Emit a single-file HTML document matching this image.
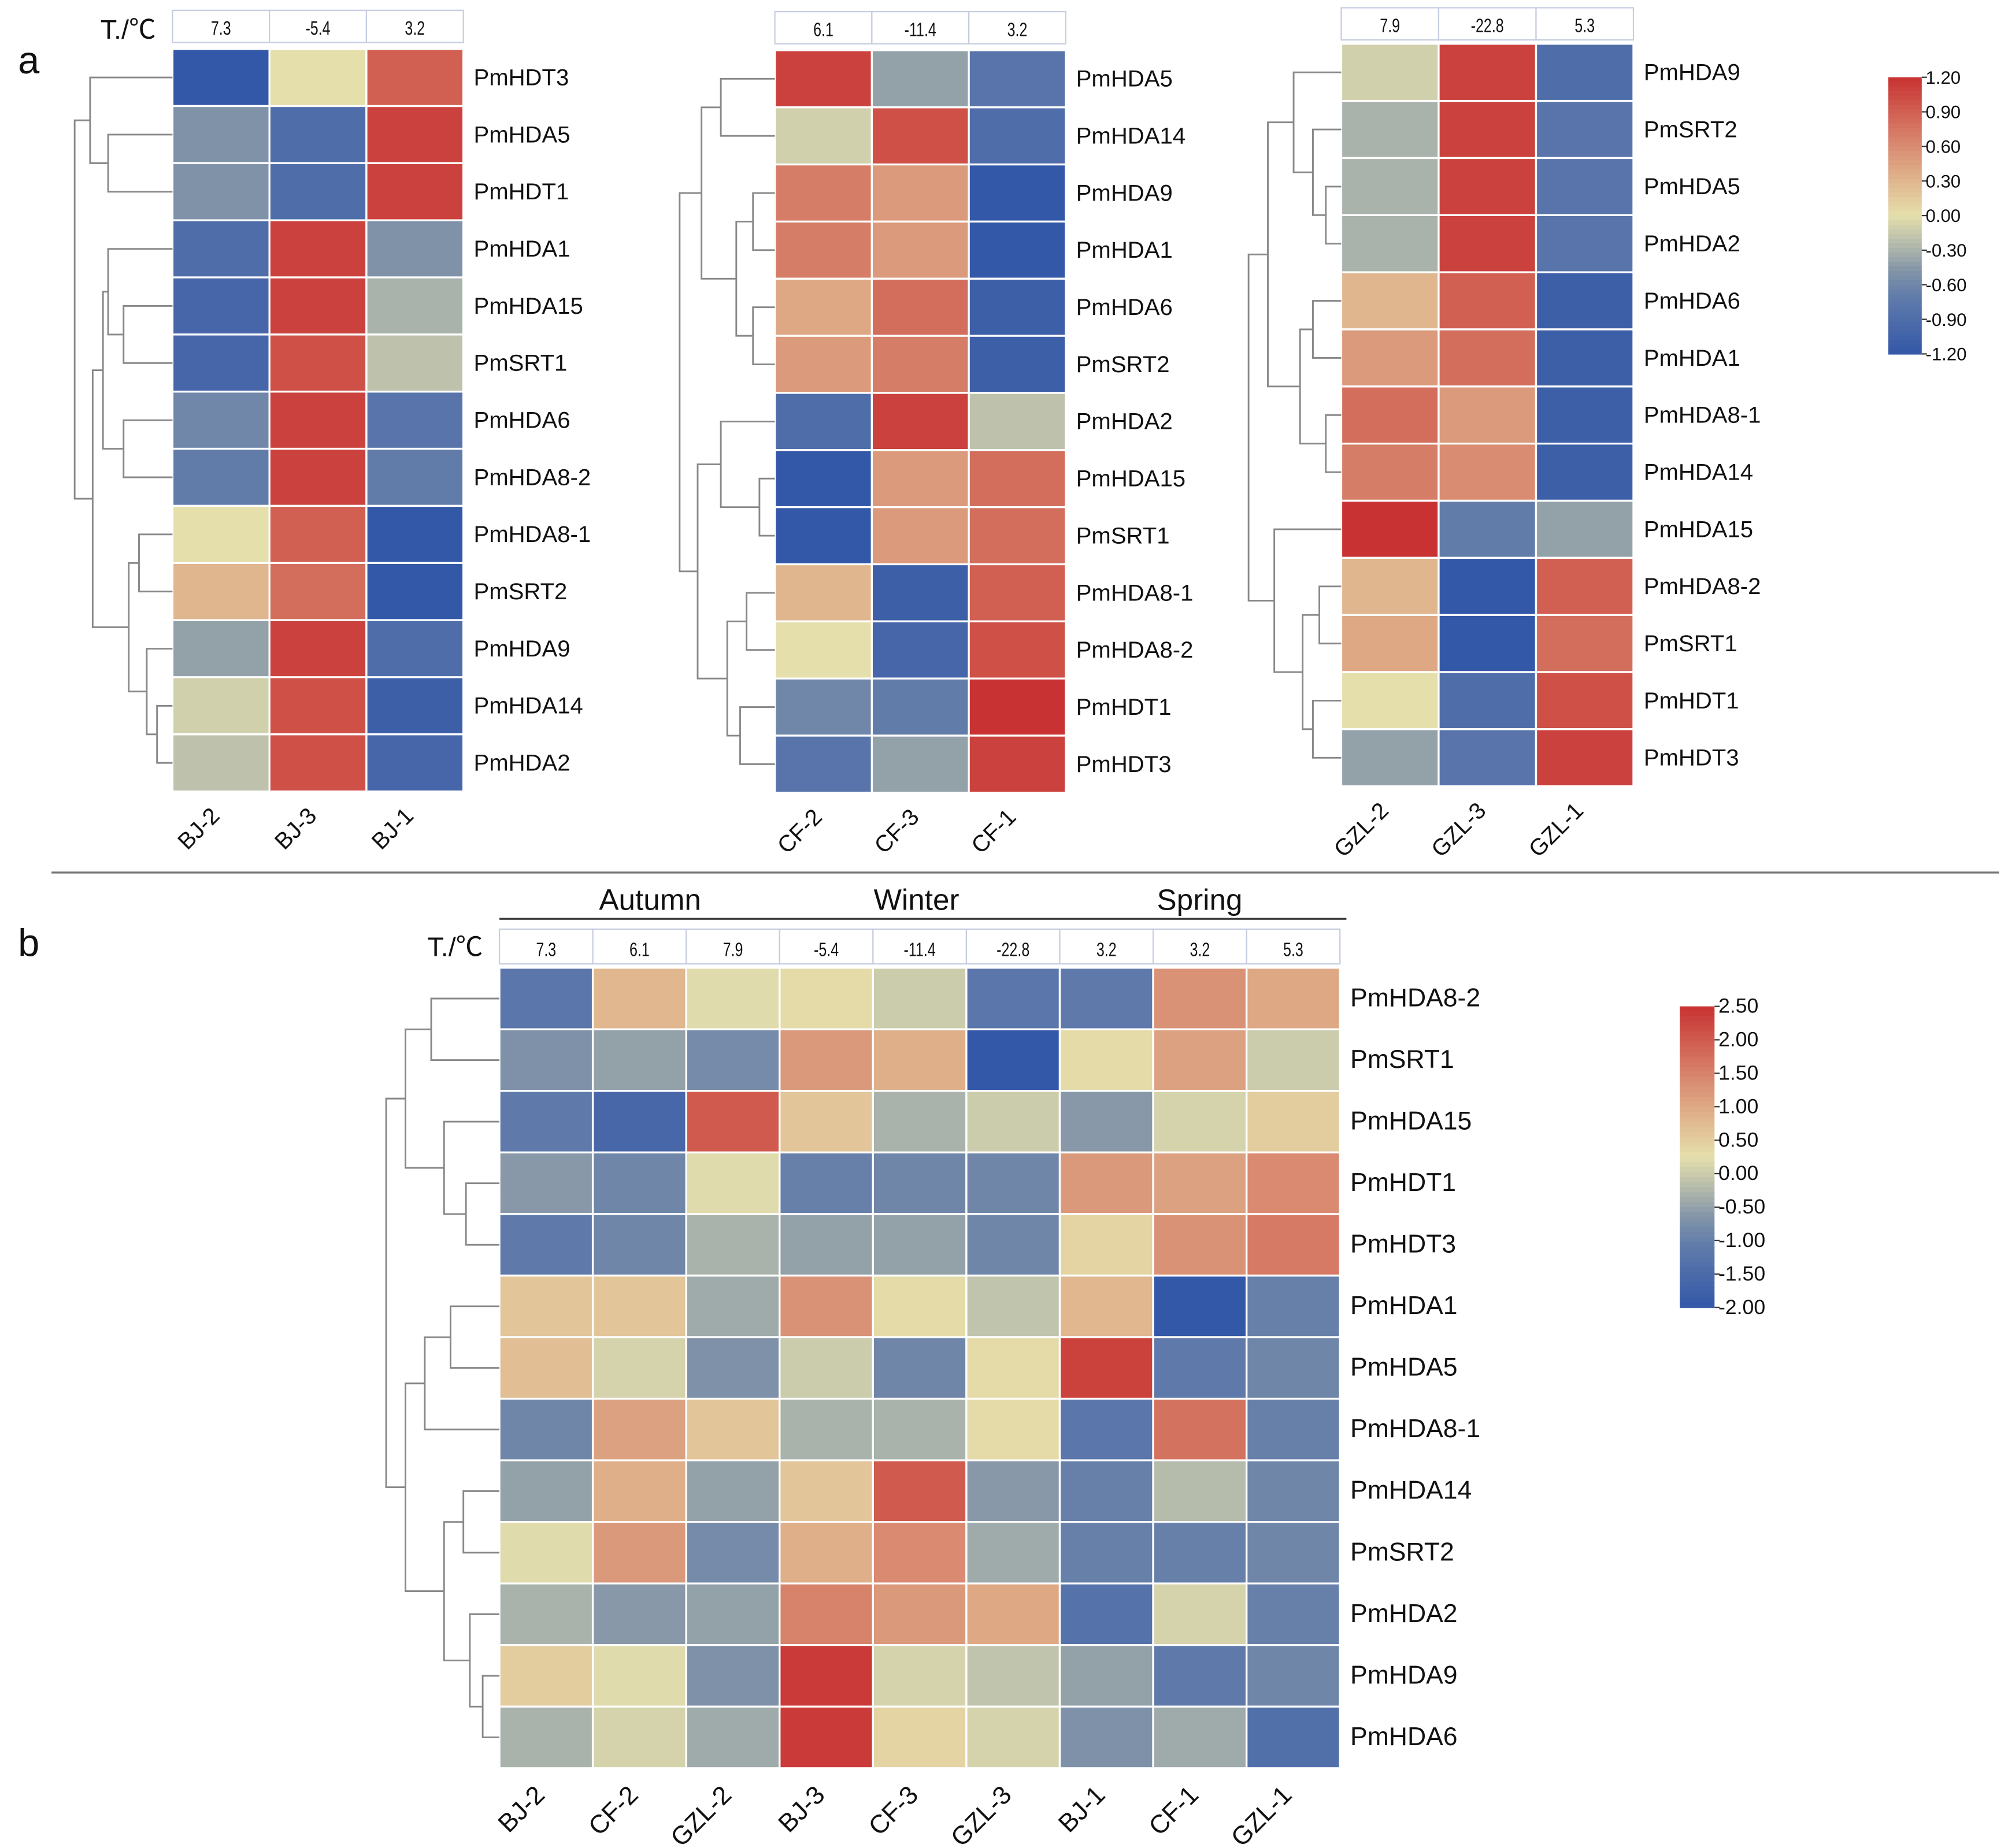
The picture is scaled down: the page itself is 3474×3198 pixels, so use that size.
<!DOCTYPE html>
<html><head><meta charset="utf-8"><title>HDAC heatmaps</title>
<style>
html,body{margin:0;padding:0;background:#fff;}
svg{display:block;}
text{font-family:"Liberation Sans","Noto Sans CJK SC",sans-serif;fill:#111;}
</style></head>
<body>
<svg id="fig" xmlns="http://www.w3.org/2000/svg" width="3474" height="3198" viewBox="0 0 1560 1436">
<rect width="1560" height="1436" fill="#fff"/>
</svg>
<script>
// ---- Panel a data ----
const rowsA1 = ["PmHDT3","PmHDA5","PmHDT1","PmHDA1","PmHDA15","PmSRT1","PmHDA6","PmHDA8-2","PmHDA8-1","PmSRT2","PmHDA9","PmHDA14","PmHDA2"];
const colsA1 = ["BJ-2","BJ-3","BJ-1"];
const tempsA1 = ["7.3","-5.4","3.2"];
const valsA1 = [
[-1.2,0.0,0.9],[-0.5,-0.9,1.1],[-0.5,-0.9,1.1],[-0.9,1.1,-0.5],[-1.0,1.1,-0.3],[-1.0,1.0,-0.2],
[-0.6,1.1,-0.8],[-0.7,1.1,-0.7],[0.0,0.9,-1.2],[0.3,0.8,-1.2],[-0.4,1.1,-0.9],[-0.1,1.0,-1.1],[-0.2,1.0,-1.0]];

const rowsA2 = ["PmHDA5","PmHDA14","PmHDA9","PmHDA1","PmHDA6","PmSRT2","PmHDA2","PmHDA15","PmSRT1","PmHDA8-1","PmHDA8-2","PmHDT1","PmHDT3"];
const colsA2 = ["CF-2","CF-3","CF-1"];
const tempsA2 = ["6.1","-11.4","3.2"];
const valsA2 = [
[1.1,-0.4,-0.8],[-0.1,1.0,-0.9],[0.7,0.5,-1.2],[0.7,0.5,-1.2],[0.4,0.8,-1.1],[0.5,0.7,-1.1],
[-0.9,1.1,-0.2],[-1.2,0.5,0.8],[-1.2,0.5,0.8],[0.3,-1.1,0.9],[0.0,-1.0,1.0],[-0.6,-0.7,1.2],[-0.8,-0.4,1.1]];

const rowsA3 = ["PmHDA9","PmSRT2","PmHDA5","PmHDA2","PmHDA6","PmHDA1","PmHDA8-1","PmHDA14","PmHDA15","PmHDA8-2","PmSRT1","PmHDT1","PmHDT3"];
const colsA3 = ["GZL-2","GZL-3","GZL-1"];
const tempsA3 = ["7.9","-22.8","5.3"];
const valsA3 = [
[-0.1,1.1,-0.9],[-0.3,1.1,-0.8],[-0.3,1.1,-0.8],[-0.3,1.1,-0.8],[0.3,0.9,-1.1],[0.5,0.8,-1.1],
[0.8,0.5,-1.1],[0.7,0.6,-1.1],[1.2,-0.7,-0.4],[0.3,-1.2,0.9],[0.4,-1.2,0.8],[0.0,-0.9,1.0],[-0.4,-0.8,1.1]];

const ticksA = ["1.20","0.90","0.60","0.30","0.00","-0.30","-0.60","-0.90","-1.20"];

// ---- Panel b data ----
const rowsB = ["PmHDA8-2","PmSRT1","PmHDA15","PmHDT1","PmHDT3","PmHDA1","PmHDA5","PmHDA8-1","PmHDA14","PmSRT2","PmHDA2","PmHDA9","PmHDA6"];
const colsB = ["BJ-2","CF-2","GZL-2","BJ-3","CF-3","GZL-3","BJ-1","CF-1","GZL-1"];
const tempsB = ["7.3","6.1","7.9","-5.4","-11.4","-22.8","3.2","3.2","5.3"];
const seasonsB = ["Autumn","Winter","Spring"];
const valsB = [
[-1.2,0.8,0.2,0.3,0.0,-1.2,-1.1,1.3,1.0],
[-0.7,-0.5,-0.8,1.2,0.9,-2.0,0.3,1.1,0.0],
[-1.1,-1.6,2.0,0.6,-0.3,0.0,-0.6,0.1,0.5],
[-0.6,-0.9,0.2,-1.0,-0.9,-0.9,1.2,1.1,1.4],
[-1.1,-0.9,-0.3,-0.5,-0.5,-0.9,0.4,1.3,1.6],
[0.6,0.6,-0.4,1.3,0.3,-0.1,0.8,-2.0,-1.0],
[0.7,0.1,-0.7,0.0,-0.9,0.3,2.3,-1.1,-0.9],
[-0.9,1.1,0.6,-0.3,-0.3,0.3,-1.2,1.7,-1.0],
[-0.5,0.9,-0.5,0.6,2.0,-0.6,-1.0,-0.2,-0.9],
[0.2,1.2,-0.8,0.9,1.4,-0.4,-1.0,-1.0,-0.9],
[-0.3,-0.6,-0.5,1.5,1.2,1.0,-1.3,0.1,-1.0],
[0.5,0.2,-0.7,2.4,0.1,-0.1,-0.5,-1.1,-0.9],
[-0.3,0.1,-0.4,2.4,0.4,0.1,-0.7,-0.4,-1.4]];
const ticksB = ["2.50","2.00","1.50","1.00","0.50","0.00","-0.50","-1.00","-1.50","-2.00"];

// dendrogram topologies: [left,right,x] ; leaves are row indices
const treeA1 = [[0,[1,2,84],70],[[[3,[4,5,96],84],[6,[7,7,96],96],80],[[8,9,108],[10,[11,12,122],114],100],72],58];
const treeA2 = [[[0,1,560],[[2,3,585],[4,5,585],572],545],[[6,[7,8,590],560],[[9,10,580],[11,12,575],565],542],528];
const treeA3 = [[[0,[1,[2,3,1030],1020],1005],[[4,5,1020],[6,7,1030],1010],985],[8,[[9,10,1025],[11,12,1020],1012],990],970];
const treeB = [[[0,1,335],[2,[3,4,362],345],315],[[[5,6,350],7,330],[[8,9,360],[10,[11,12,375],365],345],315],300];

const NS = "http://www.w3.org/2000/svg";
const svg = document.getElementById('fig');
function mk(tag, attrs, parent){
  const e = document.createElementNS(NS, tag);
  for (const k in attrs) e.setAttribute(k, attrs[k]);
  (parent||svg).appendChild(e);
  return e;
}
const stops = [[0,[52,88,168]],[0.2,[95,122,170]],[0.3,[130,148,168]],[0.4,[182,188,172]],[0.5,[229,223,172]],[0.625,[224,182,142]],[0.75,[217,140,114]],[1,[200,50,50]]];
function cmap(t){
  t = Math.max(0, Math.min(1, t));
  for (let i=1;i<stops.length;i++){
    if (t<=stops[i][0]){
      const a=stops[i-1], b=stops[i], f=(t-a[0])/(b[0]-a[0]);
      const c=a[1].map((v,j)=>Math.round(v+(b[1][j]-v)*f));
      return `rgb(${c[0]},${c[1]},${c[2]})`;
    }
  }
  return 'rgb(200,50,50)';
}

function heatmap(opt){
  const g = mk('g', {});
  
  
  const nC = opt.cols.length, nR = opt.rows.length;
  const cw = (opt.x1-opt.x0)/nC, rh = (opt.y1-opt.y0)/nR;
  const xs = i => opt.x0 + i*cw, ys = j => opt.y0 + j*rh;
  opt.vals.forEach((row,j)=>row.forEach((v,i)=>{
    const r = mk('rect', {x:xs(i), y:ys(j), width:cw, height:rh, fill:cmap((v-opt.vmin)/(opt.vmax-opt.vmin)), stroke:'#fff', 'stroke-width':1.5}, g);
    
    
  }));
  opt.rows.forEach((n,j)=>{
    const t = mk('text', {x:opt.x1+8, y:ys(j)+rh/2+6, 'font-size':opt.fs}, g);
    t.textContent = n;
    
    
  });
  opt.cols.forEach((n,i)=>{
    const cx = xs(i)+cw/2, cy = opt.y1+opt.lblOff;
    const t = mk('text', {x:cx, y:cy, 'font-size':opt.fs, 'text-anchor':'end', transform:`rotate(-45 ${cx} ${cy})`}, g);
    t.textContent = n;
    
    
  });
  opt.temps.forEach((n,i)=>{
    const r = mk('rect', {x:xs(i), y:opt.hy, width:cw, height:opt.hh, fill:'#fff', stroke:'#c7cde0', 'stroke-width':1}, g);
    
    
    const t = mk('text', {x:xs(i)+cw/2, y:opt.hy+opt.hh-6, 'font-size':15, 'text-anchor':'middle', transform:`translate(${xs(i)+cw/2} 0) scale(0.75 1) translate(${-(xs(i)+cw/2)} 0)`}, g);
    t.textContent = n;
    
    
  });
  const d = [];
  function walk(n){
    if (typeof n === 'number') return {x:opt.x0, y:ys(n)+rh/2};
    const a = walk(n[0]), b = walk(n[1]);
    if (n[0]===n[1]) return a;
    const x = n[2];
    d.push(`M${a.x},${a.y}H${x}V${b.y}H${b.x}`);
    return {x:x, y:(a.y+b.y)/2};
  }
  walk(opt.tree);
  const p = mk('path', {d:d.join(''), fill:'none', stroke:'#888', 'stroke-width':1.3}, g);
  
  
}

function colorbar(opt){
  const g = mk('g', {});
  
  
  const n = 60, h = (opt.y1-opt.y0)/n;
  for (let i=0;i<n;i++){
    mk('rect', {x:opt.x0, y:opt.y0+i*h, width:opt.w, height:h+0.5, fill:cmap(1-(i+0.5)/n)}, g);
  }
  const step = (opt.y1-opt.y0)/(opt.ticks.length-1);
  opt.ticks.forEach((t,i)=>{
    const y = opt.y0 + i*step;
    mk('line', {x1:opt.x0+opt.w, x2:opt.x0+opt.w+4, y1:y, y2:y, stroke:'#333'}, g);
    const tx = mk('text', {x:opt.x0+opt.w+3, y:y+5, 'font-size':opt.fs}, g);
    tx.textContent = t;
    
    
  });
}

heatmap({name:'heatmap-bj', rows:rowsA1, cols:colsA1, temps:tempsA1, vals:valsA1, vmin:-1.2, vmax:1.2, x0:134, x1:360, y0:38, y1:615, hy:8, hh:25, fs:18, lblOff:20, tree:treeA1});
heatmap({name:'heatmap-cf', rows:rowsA2, cols:colsA2, temps:tempsA2, vals:valsA2, vmin:-1.2, vmax:1.2, x0:602, x1:828, y0:39, y1:616, hy:9, hh:25, fs:18, lblOff:20, tree:treeA2});
heatmap({name:'heatmap-gzl', rows:rowsA3, cols:colsA3, temps:tempsA3, vals:valsA3, vmin:-1.2, vmax:1.2, x0:1042, x1:1269, y0:34, y1:611, hy:6, hh:25, fs:18, lblOff:20, tree:treeA3});
colorbar({name:'colorbar-a', x0:1467, w:26, y0:60, y1:275, ticks:ticksA, fs:14});

heatmap({name:'heatmap-b', rows:rowsB, cols:colsB, temps:tempsB, vals:valsB, vmin:-2, vmax:2.5, x0:388, x1:1041, y0:752, y1:1374, hy:722, hh:27, fs:20, lblOff:22, tree:treeB});
colorbar({name:'colorbar-b', x0:1305, w:27, y0:782, y1:1016, ticks:ticksB, fs:16});

function txt(x,y,s,fs,name,extra){
  const t = mk('text', Object.assign({x:x,y:y,'font-size':fs}, extra||{}));
  t.textContent = s;
  
  
  return t;
}
txt(14,57,'a',30,'panel-label-a');
txt(14,743,'b',30,'panel-label-b');
txt(78,30,'T./℃',21,'temperature-label-a');
txt(332,743,'T./℃',21,'temperature-label-b');
const seasonX = [505,712,932];
seasonsB.forEach((s,i)=>txt(seasonX[i],707,s,23,'season-label',{'text-anchor':'middle'}));
const l1 = mk('line',{x1:388,x2:1046,y1:714,y2:714,stroke:'#333','stroke-width':1.5});


const l2 = mk('line',{x1:40,x2:1553,y1:678,y2:678,stroke:'#777','stroke-width':1.5});


</script>
</body></html>
